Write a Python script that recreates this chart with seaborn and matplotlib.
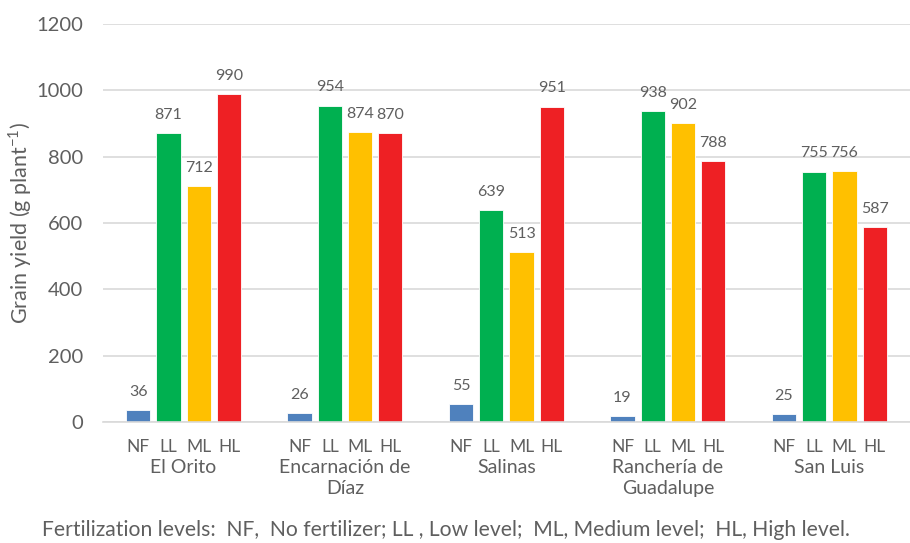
import matplotlib
matplotlib.use("Agg")
import matplotlib.pyplot as plt
import seaborn as sns
import pandas as pd
import numpy as np

sites = ["El Orito", "Encarnación de\nDíaz", "Salinas", "Ranchería de\nGuadalupe", "San Luis"]
levels = ["NF", "LL", "ML", "HL"]
nf = [36, 26, 55, 19, 25]
ll = [871, 954, 639, 938, 755]
ml = [712, 874, 513, 902, 756]
hl = [990, 870, 951, 788, 587]
colors = ["#4F81BD", "#00B050", "#FFC000", "#EE2024"]
yticks = [0, 200, 400, 600, 800, 1000, 1200]

rows = []
for lvl, vals in zip(levels, [nf, ll, ml, hl]):
    for s, v in zip(sites, vals):
        rows.append({"site": s, "level": lvl, "yield": v})
df = pd.DataFrame(rows)

sns.set_theme(style="white")
plt.rcParams["font.family"] = ["Lato", "DejaVu Sans"]
TXT = "#5F5F5F"

fig = plt.figure(figsize=(9.1, 5.43), dpi=100)
ax = fig.add_axes([0.113, 0.2228, 0.887, 0.733])

sns.barplot(data=df, x="site", y="yield", hue="level", hue_order=levels,
            order=sites, palette=colors, saturation=1, width=0.75, gap=0.2,
            edgecolor="white", linewidth=0.6, legend=False, ax=ax)

for cont in ax.containers:
    ax.bar_label(cont, fmt="%d", padding=8, fontsize=11.5, color=TXT)

ax.set_ylim(0, 1200)
ax.set_xlim(-0.5, len(sites) - 0.5)
ax.set_yticks(yticks)
ax.set_yticklabels([str(t) for t in yticks], fontsize=14.5, color=TXT)
ax.yaxis.grid(True, color="#D9D9D9", linewidth=1.2)
ax.set_axisbelow(True)
for side in ["top", "right", "left"]:
    ax.spines[side].set_visible(False)
ax.spines["bottom"].set_color("#D9D9D9")
ax.spines["bottom"].set_linewidth(1.2)
ax.tick_params(axis="y", length=0, pad=14)

# level abbreviations under each bar
slot = 0.75 / len(levels)
pos, labs = [], []
for i in range(len(sites)):
    for j, lvl in enumerate(levels):
        pos.append(i + (j - 1.5) * slot)
        labs.append(lvl)
ax.set_xticks(pos)
ax.set_xticklabels(labs, fontsize=12.5, color=TXT)
ax.tick_params(axis="x", length=0, pad=12)
ax.set_xlabel("")
ax.set_ylabel("Grain yield (g plant$^{\\mathregular{-1}}$)", fontsize=15.5,
              color=TXT)
ax.yaxis.set_label_coords(-0.113 + 22 / 807, 0.5)

# site names below the level labels
for i, s in enumerate(sites):
    ax.text(i, -0.092, s, transform=ax.get_xaxis_transform(), ha="center",
            va="top", fontsize=14, color=TXT, linespacing=1.3)

fig.text(0.046, 0.006, "Fertilization levels:  NF,  No fertilizer; LL , Low level;  ML, Medium level;  HL, High level.",
         fontsize=15.2, color=TXT, ha="left", va="bottom")

fig.savefig("out.png", dpi=100)
